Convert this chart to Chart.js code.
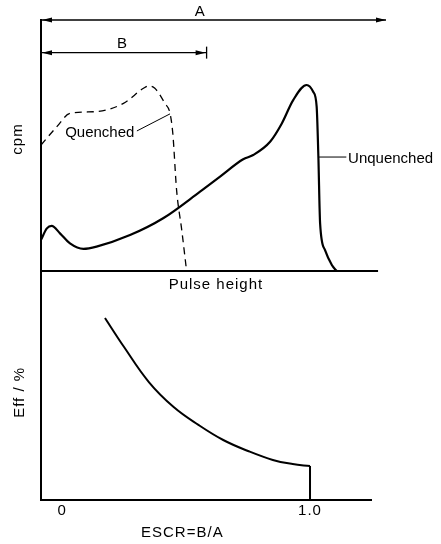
<!DOCTYPE html>
<html>
<head>
<meta charset="utf-8">
<script src="https://cdn.jsdelivr.net/npm/chart.js@4"></script>
<style>
html, body { margin: 0; padding: 0; background: #fff; }
#wrap { position: relative; width: 441px; height: 544px; }
canvas { position: absolute; left: 0; top: 0; }
</style>
</head>
<body>
<div id="wrap">
  <canvas id="spectrum" width="441" height="544"></canvas>
  <canvas id="efficiency" width="441" height="544"></canvas>
</div>
<script>
// pulse height spectra, arbitrary units (pulse height 0-100, cpm 0-100)
var quenchedX = [0, 4.6, 8.4, 16.1, 23.9, 29.7, 31.1, 33.0, 35.9, 37.4, 38.2, 39.3, 40.8, 42.2];
var quenchedY = [50.2, 57.5, 62.8, 63.5, 66.8, 72.8, 73.7, 72.8, 66.8, 62.8, 54.9, 32.3, 16.3, 0];
var unquenchedX = [0, 1.7, 3.1, 5.5, 8.4, 12.3, 16.1, 25.8, 35.4, 46.1, 51.9, 58.6, 61.5, 66.4, 69.8, 73.1, 77.0, 78.9, 79.9, 80.4, 80.9, 82.3, 84.3, 85.7];
var unquenchedY = [12.4, 17.0, 18.0, 15.0, 11.0, 8.8, 9.7, 14.3, 21.0, 31.6, 37.6, 44.5, 46.2, 51.5, 58.8, 68.1, 74.1, 71.4, 65.5, 45.5, 19.0, 8.4, 2.4, 0];

// channel windows: A = whole spectrum, B = lower channel
var windowA = 100;
var windowB = 48;

// efficiency vs ESCR
var escrX = [0.173, 0.25, 0.35, 0.45, 0.55, 0.65, 0.75, 0.85, 0.93, 1.0];
var effY = [79.5, 66.8, 51.5, 40.6, 32.8, 26.2, 21.4, 17.5, 15.7, 14.8];
var dropX = [1.0, 1.0];
var dropY = [14.8, 0];
var escrTicks = [0, 1.0];
var escrTickLabels = ['0', '1.0'];

var FONT = '15px "Liberation Sans", Arial, sans-serif';

function zip(xs, ys) {
  return xs.map(function(v, i) { return { x: v, y: ys[i] }; });
}

function line(ctx, x1, y1, x2, y2) {
  ctx.beginPath();
  ctx.moveTo(x1, y1);
  ctx.lineTo(x2, y2);
  ctx.stroke();
}

function arrowHead(ctx, x, y, dir) {
  // dir = 1 points right, -1 points left
  ctx.beginPath();
  ctx.moveTo(x, y);
  ctx.lineTo(x - dir * 10, y - 2.5);
  ctx.lineTo(x - dir * 10, y + 2.5);
  ctx.closePath();
  ctx.fill();
}

// axes, windows and labels for the spectrum
var spectrumDeco = {
  id: 'spectrumDeco',
  afterDraw: function(chart) {
    var ctx = chart.ctx, xs = chart.scales.x, ys = chart.scales.y;
    var x0 = xs.getPixelForValue(0);
    var yb = ys.getPixelForValue(0);
    var yA = ys.getPixelForValue(100);
    var yB = ys.getPixelForValue(87);
    var xA = xs.getPixelForValue(windowA);
    var xB = xs.getPixelForValue(windowB);
    ctx.save();
    ctx.strokeStyle = '#000';
    ctx.fillStyle = '#000';
    ctx.lineWidth = 2;
    line(ctx, x0, yA - 1, x0, yb + 1);
    line(ctx, x0, yb, xs.getPixelForValue(97.7), yb);

    ctx.lineWidth = 1.3;
    line(ctx, x0, yA, xA, yA);
    arrowHead(ctx, x0 + 1, yA, -1);
    arrowHead(ctx, xA, yA, 1);
    line(ctx, x0, yB, xB, yB);
    arrowHead(ctx, x0 + 1, yB, -1);
    arrowHead(ctx, xB - 1, yB, 1);
    line(ctx, xB, yB - 6, xB, yB + 6);

    ctx.font = FONT;
    ctx.textAlign = 'center';
    ctx.textBaseline = 'alphabetic';
    ctx.fillText('A', xs.getPixelForValue(46), yA - 4);
    ctx.fillText('B', xs.getPixelForValue(23.5), yB - 5);

    // leader lines to curve labels
    ctx.lineWidth = 1;
    line(ctx, xs.getPixelForValue(27.8), ys.getPixelForValue(55.8), xs.getPixelForValue(37.4), ys.getPixelForValue(62.6));
    line(ctx, xs.getPixelForValue(80.6), ys.getPixelForValue(45.4), xs.getPixelForValue(88.5), ys.getPixelForValue(45.4));
    ctx.textAlign = 'left';
    ctx.textBaseline = 'middle';
    ctx.fillText('Quenched', xs.getPixelForValue(7), ys.getPixelForValue(55.2));
    ctx.fillText('Unquenched', xs.getPixelForValue(89), ys.getPixelForValue(44.6));

    ctx.textAlign = 'center';
    ctx.letterSpacing = '1px';
    ctx.fillText('Pulse height', xs.getPixelForValue(50.7), yb + 14);

    ctx.translate(18, ys.getPixelForValue(52.6));
    ctx.rotate(-Math.PI / 2);
    ctx.fillText('cpm', 0, 0);
    ctx.restore();
  }
};

// axes and labels for the efficiency panel
var effDeco = {
  id: 'effDeco',
  afterDraw: function(chart) {
    var ctx = chart.ctx, xs = chart.scales.x, ys = chart.scales.y;
    var x0 = chart.chartArea.left;
    var yb = ys.getPixelForValue(0);
    var yt = chart.chartArea.top;
    ctx.save();
    ctx.strokeStyle = '#000';
    ctx.fillStyle = '#000';
    ctx.lineWidth = 2;
    line(ctx, x0, yt, x0, yb + 1);
    line(ctx, x0, yb, chart.chartArea.right, yb);

    ctx.font = FONT;
    ctx.letterSpacing = '1px';
    ctx.textAlign = 'center';
    ctx.textBaseline = 'middle';
    escrTicks.forEach(function(t, i) {
      ctx.fillText(escrTickLabels[i], xs.getPixelForValue(t), yb + 11);
    });
    ctx.fillText('ESCR=B/A', xs.getPixelForValue(0.485), yb + 33);

    ctx.translate(20, ys.getPixelForValue(47));
    ctx.rotate(-Math.PI / 2);
    ctx.fillText('Eff / %', 0, 0);
    ctx.restore();
  }
};

new Chart(document.getElementById('spectrum'), {
  type: 'line',
  data: {
    datasets: [{
      label: 'Unquenched',
      data: zip(unquenchedX, unquenchedY),
      borderColor: '#000',
      borderWidth: 2.2,
      pointRadius: 0,
      cubicInterpolationMode: 'monotone',
      fill: false
    }, {
      label: 'Quenched',
      data: zip(quenchedX, quenchedY),
      borderColor: '#000',
      borderWidth: 1.3,
      borderDash: [7, 5],
      pointRadius: 0,
      cubicInterpolationMode: 'monotone',
      fill: false
    }]
  },
  options: {
    responsive: false,
    animation: false,
    devicePixelRatio: 1,
    layout: { padding: { left: 41, top: 20, right: 55, bottom: 273 } },
    plugins: { legend: { display: false }, tooltip: { enabled: false } },
    scales: {
      x: { type: 'linear', min: 0, max: 100, display: false },
      y: { min: 0, max: 100, display: false }
    }
  },
  plugins: [spectrumDeco]
});

new Chart(document.getElementById('efficiency'), {
  type: 'line',
  data: {
    datasets: [{
      label: 'Eff',
      data: zip(escrX, effY),
      borderColor: '#000',
      borderWidth: 2,
      pointRadius: 0,
      tension: 0.4,
      fill: false
    }, {
      label: 'drop',
      data: zip(dropX, dropY),
      borderColor: '#000',
      borderWidth: 2,
      pointRadius: 0,
      tension: 0,
      fill: false
    }]
  },
  options: {
    responsive: false,
    animation: false,
    devicePixelRatio: 1,
    layout: { padding: { left: 41, top: 271, right: 69, bottom: 44 } },
    plugins: { legend: { display: false }, tooltip: { enabled: false } },
    scales: {
      x: { type: 'linear', min: -0.085, max: 1.25, display: false },
      y: { min: 0, max: 100, display: false }
    }
  },
  plugins: [effDeco]
});
</script>
</body>
</html>
